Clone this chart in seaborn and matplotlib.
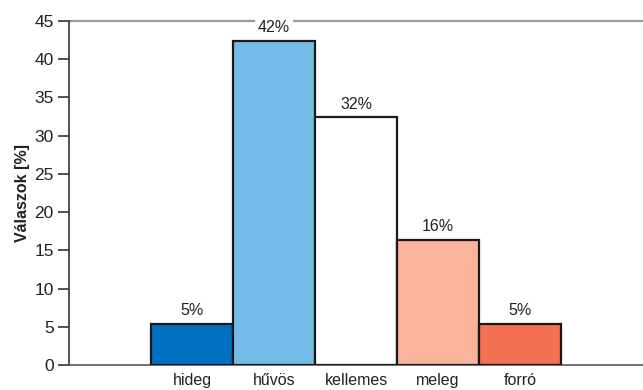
import matplotlib
matplotlib.use("Agg")
import matplotlib.pyplot as plt
import seaborn as sns
import pandas as pd

# Survey answers on thermal sensation
categories = ["hideg", "hűvös", "kellemes", "meleg", "forró"]
shares = [5.4, 42.4, 32.4, 16.4, 5.4]
bar_colors = ["#0070c0", "#74bbe8", "#ffffff", "#f9b49a", "#f37052"]
y_ticks = [0, 5, 10, 15, 20, 25, 30, 35, 40, 45]

df = pd.DataFrame({"kategoria": categories, "valasz": shares})

sns.set_theme(style="white")
plt.rcParams["font.family"] = ["Liberation Sans", "DejaVu Sans"]

fig = plt.figure(figsize=(6.43, 3.90), dpi=100)
ax = fig.add_axes([69 / 643, 25 / 390, 574 / 643, 344 / 390])

sns.barplot(data=df, x="kategoria", y="valasz", hue="kategoria",
            palette=bar_colors, order=categories, hue_order=categories,
            width=1.0, edgecolor="#1a1a1a", linewidth=1.6, saturation=1,
            legend=False, ax=ax, zorder=3)

ax.set_xlim(-1.5, 5.5)
ax.set_ylim(0, 45)
ax.set_yticks(y_ticks)
ax.tick_params(axis="y", direction="out", length=8, width=1.2, color="#333333",
               labelsize=12.5, labelcolor="#222222", pad=3, left=True)
ax.tick_params(axis="x", length=0, labelsize=11.5, labelcolor="#222222", pad=6)

for side in ["top", "right"]:
    ax.spines[side].set_visible(False)
ax.spines["left"].set_color("#333333")
ax.spines["left"].set_linewidth(1.2)
ax.spines["bottom"].set_color("#555555")
ax.spines["bottom"].set_linewidth(1.2)

# top reference line at 45
ax.axhline(45, color="#9a9a9a", linewidth=1.6, zorder=1, clip_on=False)

ax.set_xlabel("")
ax.set_ylabel("Válaszok [%]", fontsize=11.5, fontweight="bold", color="#222222",
              labelpad=3)

for i, v in enumerate(shares):
    ax.annotate(f"{v:.0f}%", xy=(i, v), xytext=(0, 4), textcoords="offset points",
                ha="center", va="bottom", fontsize=11.5, color="#222222",
                bbox=dict(boxstyle="square,pad=0.2", fc="white", ec="none"),
                zorder=5)

fig.savefig("out.png", dpi=100)
